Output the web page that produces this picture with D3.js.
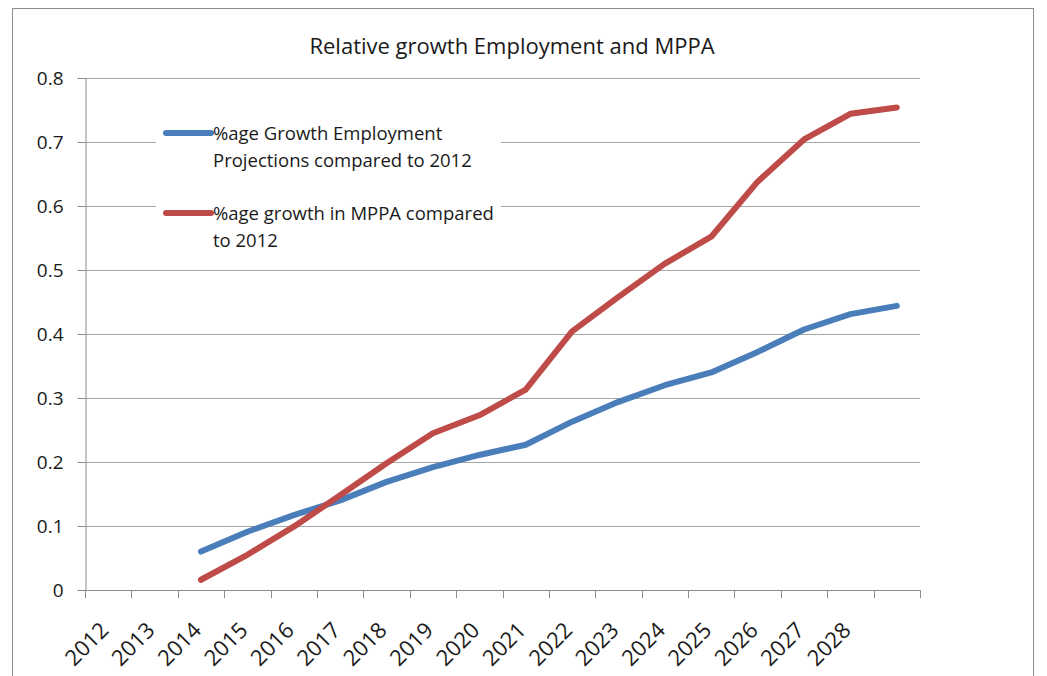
<!DOCTYPE html>
<html>
<head>
<meta charset="utf-8">
<script src="https://cdn.jsdelivr.net/npm/d3@7"></script>
<style>
  html, body { margin: 0; padding: 0; background: #fff; }
  svg { display: block; }
  text { font-family: "Open Sans", "Noto Sans", sans-serif; fill: #1a1a1a; }
</style>
</head>
<body>
<svg id="chart" width="1047" height="676"></svg>
<script>
// ---- Data ----
const categories = ["2012","2013","2014","2015","2016","2017","2018","2019","2020",
                    "2021","2022","2023","2024","2025","2026","2027","2028",""];
const seriesStartIndex = 2; // first category with data
const employmentGrowth = [0.060, 0.091, 0.117, 0.140, 0.169, 0.192, 0.211, 0.227,
                          0.263, 0.294, 0.320, 0.340, 0.372, 0.407, 0.431, 0.444];
const mppaGrowth       = [0.016, 0.055, 0.099, 0.148, 0.198, 0.245, 0.273, 0.313,
                          0.404, 0.458, 0.510, 0.552, 0.638, 0.704, 0.744, 0.754];
const yTicks = [0, 0.1, 0.2, 0.3, 0.4, 0.5, 0.6, 0.7, 0.8];
const seriesNames = ["%age Growth Employment Projections compared to 2012",
                     "%age growth in MPPA compared to 2012"];
const legendLines = [["%age Growth Employment", "Projections compared to 2012"],
                     ["%age growth in MPPA compared", "to 2012"]];
const title = "Relative growth Employment and MPPA";
const colors = ["#4A7EBB", "#BE4B48"];

// ---- Layout ----
const svg = d3.select("#chart");
const plot = {left: 85, right: 920, top: 78, bottom: 590};

// chart border
svg.append("rect").attr("x", 12.5).attr("y", 8.5).attr("width", 1021).attr("height", 720)
  .attr("fill", "#fff").attr("stroke", "#8c8c8c").attr("stroke-width", 1);

const x = d3.scaleBand().domain(d3.range(categories.length))
  .range([plot.left, plot.right]).paddingInner(0).paddingOuter(0);
const y = d3.scaleLinear().domain([0, 0.8]).range([plot.bottom, plot.top]);

// title
svg.append("text").attr("x", 512).attr("y", 54).attr("text-anchor", "middle")
  .attr("font-size", 22).text(title);

// gridlines
svg.append("g").selectAll("line").data(yTicks.filter(d => d > 0)).join("line")
  .attr("x1", plot.left).attr("x2", plot.right)
  .attr("y1", d => Math.round(y(d)) + 0.5).attr("y2", d => Math.round(y(d)) + 0.5)
  .attr("stroke", "#a6a6a6").attr("stroke-width", 1.2);

// y axis
const yAxis = d3.axisLeft(y).tickValues(yTicks).tickSize(8).tickPadding(14)
  .tickFormat(d => d === 0 ? "0" : d3.format(".1f")(d));
const gy = svg.append("g").attr("transform", `translate(${plot.left + 0.5},0)`).call(yAxis);
gy.select(".domain").attr("stroke", "#8c8c8c");
gy.selectAll(".tick line").attr("stroke", "#8c8c8c");
gy.selectAll(".tick text").attr("font-size", 19).attr("fill", "#1a1a1a")
  .attr("font-family", "'Open Sans', sans-serif").attr("dy", "0.34em");

// x axis line
svg.append("line").attr("x1", plot.left).attr("x2", plot.right)
  .attr("y1", plot.bottom + 0.5).attr("y2", plot.bottom + 0.5)
  .attr("stroke", "#8c8c8c").attr("stroke-width", 1.2);
// category boundary ticks
const boundaries = d3.range(categories.length).map(i => x(i)).concat([x(categories.length - 1) + x.bandwidth()]);
svg.append("g").selectAll("line").data(boundaries).join("line")
  .attr("x1", d => Math.round(d) + 0.5).attr("x2", d => Math.round(d) + 0.5)
  .attr("y1", plot.bottom).attr("y2", plot.bottom + 8)
  .attr("stroke", "#8c8c8c");
// category labels rotated
svg.append("g").selectAll("text").data(categories).join("text")
  .attr("transform", (d, i) => `translate(${x(i) + x.bandwidth() / 2 - 10},${plot.bottom + 30}) rotate(-45)`)
  .attr("text-anchor", "end").attr("dy", "0.75em").attr("font-size", 22)
  .text(d => d);

// lines
const line = d3.line()
  .x((d, i) => x(i + seriesStartIndex) + x.bandwidth() / 2)
  .y(d => y(d));
[employmentGrowth, mppaGrowth].forEach((s, k) => {
  svg.append("path").datum(s).attr("d", line)
    .attr("fill", "none").attr("stroke", colors[k]).attr("stroke-width", 6)
    .attr("stroke-linecap", "round").attr("stroke-linejoin", "round");
});

// legend
const lg = svg.append("g");
lg.append("rect").attr("x", 156).attr("y", 112).attr("width", 345).attr("height", 146).attr("fill", "#fff");
const legendY = [133, 213];
legendLines.forEach((lines, k) => {
  lg.append("line").attr("x1", 166).attr("x2", 211)
    .attr("y1", legendY[k]).attr("y2", legendY[k])
    .attr("stroke", colors[k]).attr("stroke-width", 6).attr("stroke-linecap", "round");
  lines.forEach((t, j) => {
    lg.append("text").attr("x", 213).attr("y", legendY[k] + 7 + j * 27)
      .attr("font-size", 18.5).text(t);
  });
});
</script>
</body>
</html>
